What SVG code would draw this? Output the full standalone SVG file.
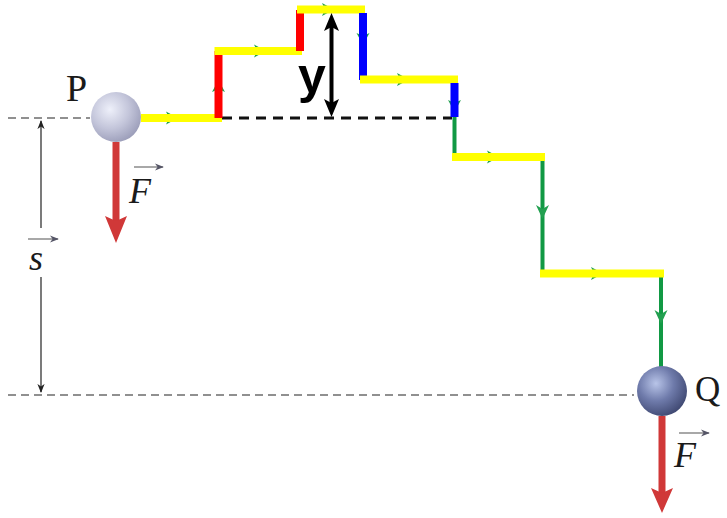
<svg xmlns="http://www.w3.org/2000/svg" width="727" height="518" viewBox="0 0 727 518">
<defs>
<radialGradient id="gP" cx="0.38" cy="0.35" r="0.7">
<stop offset="0" stop-color="#eef0fa"/>
<stop offset="0.55" stop-color="#c3c5da"/>
<stop offset="1" stop-color="#9a9cb8"/>
</radialGradient>
<radialGradient id="gQ" cx="0.38" cy="0.35" r="0.7">
<stop offset="0" stop-color="#b8c4e8"/>
<stop offset="0.5" stop-color="#6f7bab"/>
<stop offset="1" stop-color="#3e4770"/>
</radialGradient>
<marker id="mSmall" viewBox="0 0 10 10" refX="9" refY="5" markerWidth="9" markerHeight="9" markerUnits="userSpaceOnUse" orient="auto">
<path d="M0,1 L10,5 L0,9 L3,5 Z" fill="#222"/>
</marker>
<marker id="mOver" viewBox="0 0 10 10" refX="9" refY="5" markerWidth="9" markerHeight="9" markerUnits="userSpaceOnUse" orient="auto">
<path d="M0,1 L10,5 L0,9 L3,5 Z" fill="#556"/>
</marker>
</defs>
<style>
.thin{stroke:#222;stroke-width:1.2;fill:none}
.dash{stroke:#222;stroke-width:1.2;stroke-dasharray:8 5;fill:none}
.bdash{stroke:#111;stroke-width:3;stroke-dasharray:10 7;fill:none}
.yel{stroke:#ffff00;stroke-width:8;fill:none}
.red{stroke:#ff0000;stroke-width:8;fill:none}
.blu{stroke:#0000ff;stroke-width:8;fill:none}
.grn{stroke:#119944;stroke-width:4;fill:none}
.gh{fill:#22a050}
.force{stroke:#d03838;stroke-width:7;fill:none}
.fh{fill:#d03838}
.over{stroke:#a8a8a8;stroke-width:2;fill:none}
.lbl{font-family:"Liberation Serif","DejaVu Serif",serif;fill:#1a1a1a}
.it{font-family:"Liberation Serif","DejaVu Serif",serif;font-style:italic;fill:#1a1a1a}
</style>
<g id="connectors">
<line class="dash" x1="8" y1="118" x2="90" y2="118"/>
<line class="dash" x1="8" y1="395" x2="634" y2="395"/>
<line class="bdash" x1="222" y1="118" x2="452" y2="118"/>
<line class="thin" x1="41" y1="228" x2="41" y2="121" marker-end="url(#mSmall)"/>
<line class="thin" x1="41" y1="277" x2="41" y2="392" marker-end="url(#mSmall)"/>
<line class="grn" x1="454.5" y1="115" x2="454.5" y2="157"/>
<line class="grn" x1="542.5" y1="157" x2="542.5" y2="273"/>
<line class="grn" x1="661" y1="273" x2="661" y2="367"/>
<path class="gh" d="M178,118 L166,111.5 L169,118 L166,124.5 Z"/>
<path class="gh" d="M218.5,80 L212,92 L218.5,89 L225,92 Z"/>
<path class="gh" d="M266,51 L254,44.5 L257,51 L254,57.5 Z"/>
<path class="gh" d="M334,9.5 L322,3 L325,9.5 L322,16 Z"/>
<path class="gh" d="M363,45 L356.5,33 L363,36 L369.5,33 Z"/>
<path class="gh" d="M409,79.5 L397,73 L400,79.5 L397,86 Z"/>
<path class="gh" d="M454.5,112 L448,100 L454.5,103 L461,100 Z"/>
<path class="gh" d="M499,157 L487,150.5 L490,157 L487,163.5 Z"/>
<path class="gh" d="M542.5,219 L536,205 L542.5,209 L549,205 Z"/>
<path class="gh" d="M603,273.5 L591,267 L594,273.5 L591,280 Z"/>
<path class="gh" d="M661,324 L654.5,310 L661,314 L667.5,310 Z"/>
<line class="yel" x1="141" y1="118" x2="222" y2="118"/>
<line class="red" x1="218.5" y1="118" x2="218.5" y2="51"/>
<line class="yel" x1="214.5" y1="51" x2="302" y2="51"/>
<line class="red" x1="300" y1="51" x2="300" y2="10"/>
<line class="yel" x1="297" y1="9.5" x2="365" y2="9.5"/>
<line class="blu" x1="363" y1="13" x2="363" y2="80"/>
<line class="yel" x1="360" y1="79.5" x2="458" y2="79.5"/>
<line class="blu" x1="454.5" y1="83" x2="454.5" y2="117"/>
<line class="yel" x1="452" y1="157" x2="545" y2="157"/>
<line class="yel" x1="540" y1="273.5" x2="664" y2="273.5"/>
<line x1="331.5" y1="26" x2="331.5" y2="104" stroke="#000" stroke-width="4"/>
<path d="M331.5,13 L339,31 L331.5,27 L324,31 Z" fill="#000"/>
<path d="M331.5,117 L339,99 L331.5,103 L324,99 Z" fill="#000"/>
<line class="force" x1="116" y1="142" x2="116" y2="222"/>
<path class="fh" d="M116,243 L105,216 L116,221 L127,216 Z"/>
<line class="force" x1="662" y1="416" x2="662" y2="494"/>
<path class="fh" d="M662,513 L651,488 L662,493 L673,488 Z"/>
<line class="over" x1="134" y1="167" x2="163" y2="167" marker-end="url(#mOver)"/>
<line class="over" x1="28" y1="239" x2="58" y2="239" marker-end="url(#mOver)"/>
<line class="over" x1="679" y1="433" x2="709" y2="433" marker-end="url(#mOver)"/>
</g>
<g id="nodeP">
<circle cx="116" cy="117" r="25" fill="url(#gP)"/>
<text class="lbl" x="66" y="101" font-size="38">P</text>
</g>
<g id="nodeQ">
<circle cx="662" cy="391" r="25" fill="url(#gQ)"/>
<text class="lbl" x="695" y="401" font-size="35">Q</text>
</g>
<g id="labels">
<text class="it" x="129" y="203" font-size="36">F</text>
<text class="it" x="674" y="467" font-size="36">F</text>
<text class="it" x="29" y="270" font-size="36">s</text>
<text x="298" y="93" font-family="'Liberation Sans',Arial,sans-serif" font-weight="bold" font-size="50" fill="#000">y</text>
</g>
</svg>
